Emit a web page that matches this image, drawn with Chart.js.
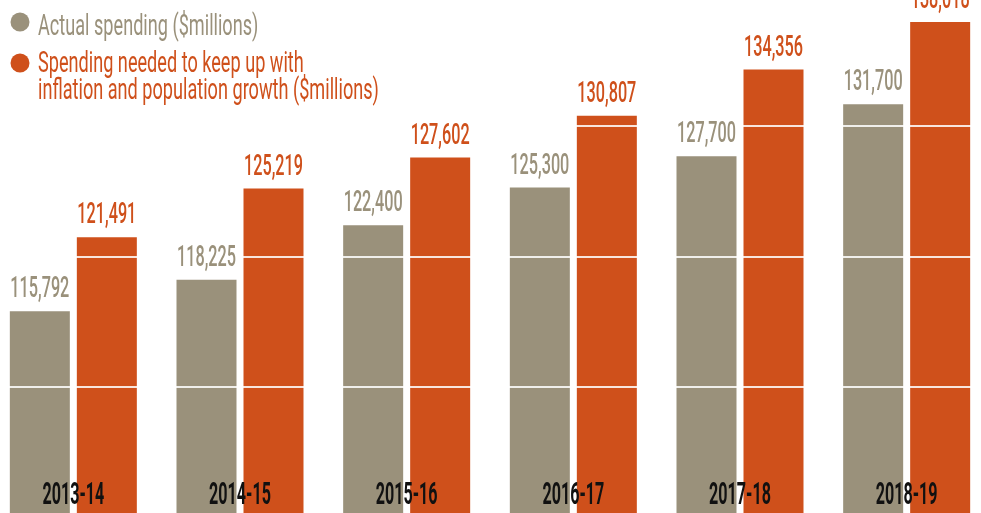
<!DOCTYPE html>
<html>
<head>
<meta charset="utf-8">
<script src="https://cdn.jsdelivr.net/npm/chart.js@4.4.1/dist/chart.umd.min.js"></script>
<style>
    html, body { margin: 0; padding: 0; overflow: hidden; background: #fff; }
    #wrap { position: absolute; left: -10px; top: 0; width: 1000px; height: 517px; }
</style>
</head>
<body>
<div id="wrap"><canvas id="spendingChart"></canvas></div>
<script>
const years = ['2013-14', '2014-15', '2015-16', '2016-17', '2017-18', '2018-19'];
const actualSpending = [115792, 118225, 122400, 125300, 127700, 131700];
const neededSpending = [121491, 125219, 127602, 130807, 134356, 138018];
const seriesNames = [
    ['Actual spending ($millions)'],
    ['Spending needed to keep up with', 'inflation and population growth ($millions)']
];
const yTicks = [100000, 110000, 120000, 130000];

const grey = '#9a917b';
const orange = '#cf501b';

// condensed text: squeeze horizontally since no condensed font is installed
function drawNarrow(ctx, text, x, y, font, color, squeeze, align) {
    ctx.save();
    ctx.font = font;
    ctx.fillStyle = color;
    ctx.textBaseline = 'alphabetic';
    ctx.textAlign = align;
    ctx.translate(x, y);
    ctx.scale(squeeze, 1);
    ctx.fillText(text, 0, 0);
    ctx.restore();
}

const labelsPlugin = {
    id: 'labelsPlugin',
    afterDraw(chart) {
        const ctx = chart.ctx;
        const colors = [grey, orange];
        // values above bars
        chart.data.datasets.forEach((ds, di) => {
            chart.getDatasetMeta(di).data.forEach((bar, i) => {
                drawNarrow(ctx, ds.data[i].toLocaleString('en-US'), bar.x, bar.y - 14,
                    '500 29px Roboto', colors[di], 0.56, 'center');
            });
        });
        // year labels inside the bars
        const xScale = chart.scales.x;
        years.forEach((yr, i) => {
            drawNarrow(ctx, yr, xScale.getPixelForValue(i), 504,
                'bold 31px Roboto', '#111', 0.52, 'center');
        });
        // legend
        const rows = [[22, 35], [63, 72, 99]];
        seriesNames.forEach((lines, si) => {
            ctx.beginPath();
            ctx.arc(30, rows[si][0], 9.5, 0, Math.PI * 2);
            ctx.fillStyle = colors[si];
            ctx.fill();
            lines.forEach((line, li) => {
                drawNarrow(ctx, line, 48, rows[si][li + 1],
                    '29px Roboto', colors[si], 0.625, 'left');
            });
        });
    }
};

new Chart(document.getElementById('spendingChart').getContext('2d'), {
    type: 'bar',
    data: {
        labels: years,
        datasets: [
            { label: seriesNames[0].join(' '), data: actualSpending, backgroundColor: grey },
            { label: seriesNames[1].join(' '), data: neededSpending, backgroundColor: orange }
        ]
    },
    options: {
        responsive: true,
        maintainAspectRatio: false,
        animation: false,
        layout: { padding: 0 },
        categoryPercentage: 0.804,
        barPercentage: 0.8955,
        plugins: {
            legend: { display: false },
            tooltip: { enabled: false }
        },
        scales: {
            x: { display: false },
            y: {
                min: 100000,
                max: 139700,
                afterBuildTicks: (axis) => { axis.ticks = yTicks.map(v => ({ value: v })); },
                ticks: { display: false },
                border: { display: false },
                // white lines over the bars
                grid: { z: 1, color: 'rgba(255,255,255,0.85)', lineWidth: 2, drawTicks: false }
            }
        }
    },
    plugins: [labelsPlugin]
});
</script>
</body>
</html>
